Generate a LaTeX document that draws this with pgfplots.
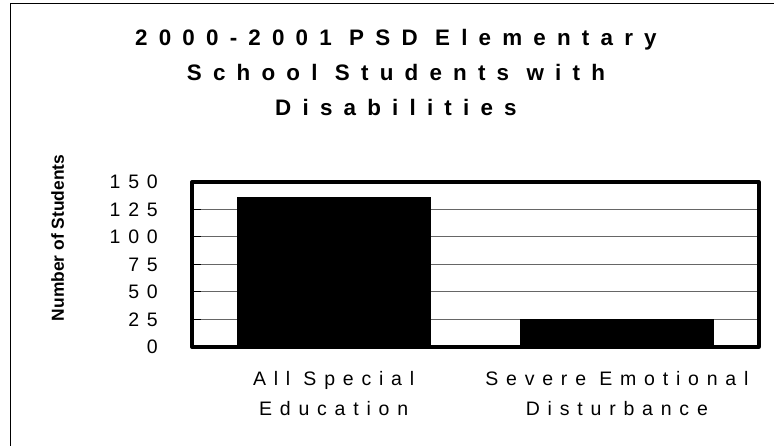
\documentclass[border=0pt]{standalone}
\usepackage{pgfplots}
\pgfplotsset{compat=1.18}
\usepackage{fontspec}
\setmainfont{Liberation Sans}
\newfontfamily\lsfont{Liberation Sans}[LetterSpace=40]
\newfontfamily\lstitle{Liberation Sans}[LetterSpace=50]
\begin{document}
\begin{tikzpicture}
\useasboundingbox (0,0) rectangle (774pt,446pt);
\draw[line width=1pt] (10pt,-20pt) -- (10pt,442pt) -- (800pt,442pt);
\begin{axis}[
  at={(192pt,99pt)}, anchor=south west,
  scale only axis, width=566.5pt, height=165pt,
  xmin=-0.5, xmax=1.5, ymin=0, ymax=150,
  enlargelimits=false,
  xtick={0,1},
  xticklabels={{All Special\\Education},{Severe Emotional\\Disturbance}},
  ytick={0,25,50,75,100,125,150},
  ytick pos=left,
  tick align=inside,
  major tick length=9pt,
  xtick style={draw=none},
  ytick style={black, line width=1pt},
  ymajorgrids,
  grid style={black!60, line width=1pt},
  axis line style={line width=4pt, line join=round},
  /pgf/number format/assume math mode=true,
  yticklabel style={font=\lsfont\fontsize{19.5}{24}\selectfont, anchor=east, inner sep=0pt, xshift=-34pt},
  xticklabel style={font=\lsfont\fontsize{19.5}{30}\selectfont, align=center, anchor=north, inner sep=0pt, yshift=-15pt},
  title={2000-2001 PSD Elementary\\School Students with\\Disabilities},
  title style={at={(axis description cs:0.36,1.893)}, anchor=north, align=center, inner sep=0pt,
    font=\lstitle\bfseries\fontsize{22.4}{35}\selectfont},
  ylabel={Number of Students},
  ylabel style={at={(axis description cs:-0.226,0.6606)}, anchor=base, inner sep=0pt,
    font=\bfseries\fontsize{17.4}{20}\selectfont},
  ybar, bar width=193pt,
]
\addplot[fill=black, draw=black] coordinates {(0,136) (1,25)};
\end{axis}
\end{tikzpicture}
\end{document}
